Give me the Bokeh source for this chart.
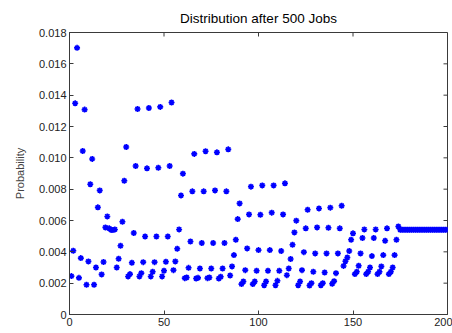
from bokeh.plotting import figure
from bokeh.models import Range1d, FixedTicker, LinearAxis, CustomJSTickFormatter, ColumnDataSource
from bokeh.embed import file_html
from bokeh.resources import INLINE

title_text = "Distribution after 500 Jobs"
y_label = "Probability"
x_ticks = [0, 50, 100, 150, 200]
y_ticks = [0, 0.002, 0.004, 0.006, 0.008, 0.01, 0.012, 0.014, 0.016, 0.018]

# probabilities per state (states 1..200)
block1 = [0.00245, 0.00407, 0.01348, 0.01702, 0.00234, 0.0036, 0.01044, 0.01308,
          0.0019, 0.00339, 0.00831, 0.00993, 0.0019, 0.003, 0.00684, 0.00792,
          0.00256, 0.00335, 0.00556, 0.00626, 0.0055, 0.0054, 0.0054, 0.00543]
block2 = [0.003, 0.00356, 0.00439, 0.00592, 0.00854, 0.01069,
          0.00243, 0.00258, 0.0033, 0.0052, 0.00948, 0.01312,
          0.00243, 0.00264, 0.00334, 0.00498, 0.00933, 0.01318,
          0.00243, 0.00273, 0.00334, 0.00498, 0.00937, 0.01325,
          0.00243, 0.00279, 0.00337, 0.00498, 0.00948, 0.01353]
block3 = [0.00283, 0.00339, 0.0042, 0.00543, 0.0076, 0.00899,
          0.00232, 0.00236, 0.00298, 0.00466, 0.00786, 0.01025,
          0.0023, 0.00234, 0.00294, 0.00456, 0.00786, 0.01042,
          0.00232, 0.00236, 0.00294, 0.00456, 0.00792, 0.01035,
          0.0023, 0.00241, 0.00294, 0.00456, 0.00786, 0.01054]
block4 = [0.00249, 0.00307, 0.00379, 0.00477, 0.00609, 0.00709,
          0.00194, 0.00211, 0.00283, 0.00422, 0.00639, 0.00816,
          0.00194, 0.00211, 0.00279, 0.00411, 0.00637, 0.00824,
          0.00187, 0.00211, 0.00279, 0.00411, 0.0065, 0.00824,
          0.00187, 0.00215, 0.00279, 0.00405, 0.00639, 0.00837]
block5 = [0.00251, 0.00294, 0.00354, 0.00445, 0.00524, 0.00599,
          0.00187, 0.00211, 0.00283, 0.00398, 0.0055, 0.00669,
          0.00185, 0.002, 0.00273, 0.0039, 0.00556, 0.00677,
          0.00187, 0.002, 0.00268, 0.0039, 0.00554, 0.00682,
          0.00196, 0.00213, 0.00264, 0.0039, 0.0055, 0.00694]
block6 = [0.0031, 0.0034, 0.00364, 0.00405, 0.00477, 0.00518,
          0.00258, 0.00273, 0.00311, 0.0039, 0.00488, 0.00543,
          0.00258, 0.00273, 0.003, 0.00373, 0.00488, 0.00543,
          0.00258, 0.00273, 0.00307, 0.00379, 0.00471, 0.0055,
          0.00258, 0.00273, 0.003, 0.00379, 0.00477, 0.00562]
tail = [0.00541, 0.00541, 0.00541, 0.00541, 0.00541, 0.00541, 0.00541, 0.00541,
        0.00541, 0.00541, 0.00541, 0.00541, 0.00541, 0.00541, 0.00541, 0.00541,
        0.00541, 0.00541, 0.00541, 0.00541, 0.00541, 0.00541, 0.00541, 0.00541,
        0.00541, 0.00541]

prob = block1 + block2 + block3 + block4 + block5 + block6 + tail
state = list(range(1, len(prob) + 1))

FONT = "Liberation Sans"
AX = "#3a3a3a"

X0, X1, Y0, Y1 = 0, 200, 0, 0.018
p = figure(width=452, height=333, output_backend="svg", toolbar_location=None,
           x_range=Range1d(X0, X1), y_range=Range1d(Y0, Y1),
           min_border_left=69, min_border_right=5, min_border_top=32, min_border_bottom=19,
           x_axis_location=None, y_axis_location=None)
p.background_fill_color = "white"
p.border_fill_color = "white"
p.outline_line_color = AX
p.outline_line_width = 1
p.xgrid.visible = False
p.ygrid.visible = False

p.title.text = title_text
p.title.align = "center"
p.title.vertical_align = "top"
p.title.text_font = FONT
p.title.text_font_size = "13.5px"
p.title.text_font_style = "normal"
p.title.text_color = "black"
p.title.standoff = 10

fmt_y = CustomJSTickFormatter(code="return tick == 0 ? '0' : tick.toFixed(3);")

def style(ax):
    ax.axis_line_color = AX
    ax.major_tick_in = 4
    ax.major_tick_out = 0
    ax.minor_tick_line_color = None
    ax.major_tick_line_color = AX
    ax.major_label_text_font = FONT
    ax.major_label_text_font_size = "11px"
    ax.major_label_text_color = "#222222"
    ax.major_label_standoff = 3

xb = LinearAxis(ticker=FixedTicker(ticks=x_ticks))
style(xb)
p.add_layout(xb, "below")
yl = LinearAxis(ticker=FixedTicker(ticks=y_ticks), formatter=fmt_y,
                axis_label=y_label, axis_label_text_font=FONT,
                axis_label_text_font_size="11px", axis_label_text_font_style="normal",
                axis_label_standoff=10)
style(yl)
p.add_layout(yl, "left")

# inner tick marks on the top and right edges of the box (4 px long)
frame_w = 452 - 69 - 5
frame_h = 333 - 32 - 19
dx = 4 * (X1 - X0) / frame_w
dy = 4 * (Y1 - Y0) / frame_h
p.segment(x0=[X1] * len(y_ticks), y0=y_ticks, x1=[X1 - dx] * len(y_ticks), y1=y_ticks,
          line_color=AX, line_width=1)
p.segment(x0=x_ticks, y0=[Y1] * len(x_ticks), x1=x_ticks, y1=[Y1 - dy] * len(x_ticks),
          line_color=AX, line_width=1)

src = ColumnDataSource(data=dict(state=state, prob=prob))
p.scatter("state", "prob", source=src, marker="asterisk", size=6,
          line_color="#0000ff", line_width=1.6)
p.scatter("state", "prob", source=src, marker="circle", size=3,
          fill_color="#0000ff", line_color=None)

open("out.html", "w").write(file_html(p, INLINE))
